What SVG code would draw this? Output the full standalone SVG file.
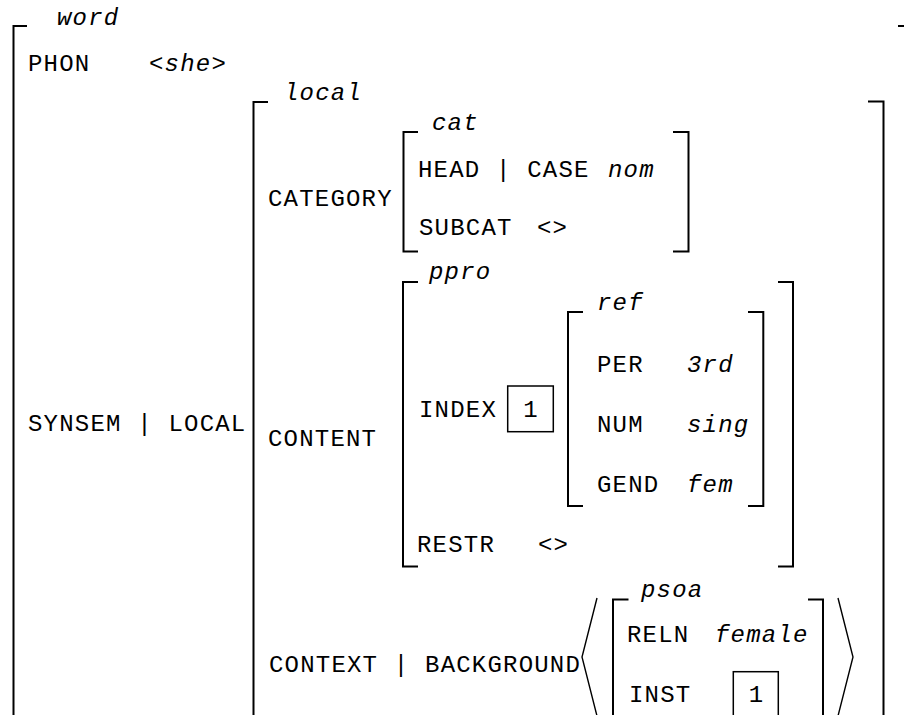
<svg xmlns="http://www.w3.org/2000/svg" width="904" height="715" viewBox="0 0 904 715">
<style>
  text { font-family: "Liberation Mono", "Courier New", monospace; font-size: 24px; letter-spacing: 1.2px; fill: #000; }
  .it { font-style: italic; }
  .mid { text-anchor: middle; }
  .br { fill: none; stroke: #000; stroke-width: 2; }
  .box { fill: none; stroke: #000; stroke-width: 1.5; }
  .ang { fill: none; stroke: #000; stroke-width: 1.4; }
</style>
<rect width="904" height="715" fill="#fff"/>

<g id="word">
  <path class="br" d="M27,26 H13.5 V720"/>
  <path class="br" d="M898,26 H912 V720"/>
  <text class="it" x="57" y="25">word</text>
  <text x="28" y="71">PHON</text>
  <text class="it" x="149" y="71">&lt;she&gt;</text>
  <text x="28" y="431">SYNSEM | LOCAL</text>
</g>

<g id="local">
  <path class="br" d="M268,102 H253.5 V720"/>
  <path class="br" d="M868,101.5 H883.5 V720"/>
  <text class="it" x="284" y="100">local</text>
  <text x="268" y="206">CATEGORY</text>
  <text x="268" y="446">CONTENT</text>
  <text x="269" y="672">CONTEXT | BACKGROUND</text>
</g>

<g id="cat">
  <path class="br" d="M418,132 H403.5 V251.5 H418"/>
  <path class="br" d="M673,132 H688.5 V251.5 H673"/>
  <text class="it" x="432" y="130">cat</text>
  <text x="418" y="177">HEAD | CASE</text>
  <text class="it" x="608" y="177">nom</text>
  <text x="419" y="235">SUBCAT</text>
  <text x="537" y="235">&lt;&gt;</text>
</g>

<g id="ppro">
  <path class="br" d="M418,282 H403 V566.5 H418"/>
  <path class="br" d="M778,282 H793 V566.5 H778"/>
  <text class="it" x="429" y="279">ppro</text>
  <text x="419" y="417">INDEX</text>
  <text x="417" y="552">RESTR</text>
  <text x="538" y="552">&lt;&gt;</text>
</g>

<g id="tag1">
  <rect class="box" x="507.7" y="386" width="45.6" height="45.7"/>
  <text class="mid" x="531" y="417">1</text>
</g>

<g id="ref">
  <path class="br" d="M583,312 H568 V506 H583"/>
  <path class="br" d="M748,312 H763.3 V506 H748"/>
  <text class="it" x="597" y="310">ref</text>
  <text x="597" y="372">PER</text>
  <text class="it" x="687" y="372">3rd</text>
  <text x="597" y="432">NUM</text>
  <text class="it" x="687" y="432">sing</text>
  <text x="597" y="492">GEND</text>
  <text class="it" x="687" y="492">fem</text>
</g>

<g id="background-list">
  <path class="ang" d="M597,598 L582,657 L597,716"/>
  <path class="ang" d="M838,598 L853,657 L838,716"/>
</g>

<g id="psoa">
  <path class="br" d="M628.5,599.5 H613 V720"/>
  <path class="br" d="M808,599.5 H823 V720"/>
  <text class="it" x="641" y="597">psoa</text>
  <text x="627" y="642">RELN</text>
  <text class="it" x="715" y="642">female</text>
  <text x="629" y="702">INST</text>
</g>

<g id="tag1-inst">
  <rect class="box" x="733.3" y="671.7" width="45" height="50"/>
  <text class="mid" x="756.5" y="702">1</text>
</g>
</svg>
